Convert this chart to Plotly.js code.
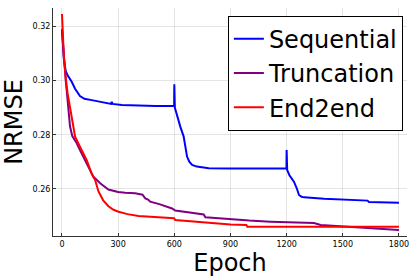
<!DOCTYPE html>
<html>
<head>
<meta charset="utf-8">
<script src="https://cdn.plot.ly/plotly-3.0.1.min.js"></script>
<style>html,body{margin:0;padding:0;background:#fff;}#chart{width:415px;height:277px;}</style>
</head>
<body>
<div id="chart"></div>
<script>
const seqEpoch = [0, 10, 20, 30, 52, 70, 96, 120, 159, 200, 248, 262, 266, 270, 320, 400, 500, 599, 600, 603, 615, 632, 650, 668, 680, 695, 720, 784, 900, 1000, 1100, 1199, 1200, 1203, 1215, 1239, 1255, 1266, 1280, 1293, 1400, 1500, 1632, 1640, 1700, 1800];
const seqVal = [0.319, 0.308, 0.3035, 0.302, 0.2996, 0.297, 0.2943, 0.2933, 0.2928, 0.2922, 0.2916, 0.2914, 0.2922, 0.2914, 0.2910, 0.2907, 0.2906, 0.2906, 0.2987, 0.2900, 0.2870, 0.2830, 0.2793, 0.2719, 0.2700, 0.2688, 0.2682, 0.2676, 0.2675, 0.2675, 0.2675, 0.2675, 0.2743, 0.2669, 0.2650, 0.2626, 0.2600, 0.2577, 0.2570, 0.2568, 0.2563, 0.2560, 0.2556, 0.2551, 0.2550, 0.2548];

const truEpoch = [0, 10, 20, 25, 34, 43, 55, 79, 96, 123, 150, 168, 186, 204, 248, 300, 338, 391, 430, 445, 460, 471, 520, 588, 605, 700, 757, 766, 850, 936, 1000, 1114, 1275, 1346, 1382, 1500, 1600, 1700, 1800];
const truVal = [0.319, 0.308, 0.300, 0.2965, 0.289, 0.2830, 0.2795, 0.2768, 0.2743, 0.2706, 0.2669, 0.2644, 0.2632, 0.2620, 0.2597, 0.2588, 0.2585, 0.2583, 0.2578, 0.2564, 0.2560, 0.2552, 0.2543, 0.2527, 0.2519, 0.2510, 0.2505, 0.2494, 0.2489, 0.2484, 0.2482, 0.2478, 0.2474, 0.2473, 0.2466, 0.2461, 0.2457, 0.2452, 0.2447];

const e2eEpoch = [0, 4, 10, 20, 30, 50, 70, 100, 132, 159, 177, 195, 220, 248, 275, 302, 350, 409, 500, 599, 605, 700, 757, 900, 985, 990, 1100, 1275, 1500, 1800];
const e2eVal = [0.3247, 0.316, 0.309, 0.301, 0.2953, 0.2873, 0.2793, 0.2750, 0.2706, 0.2655, 0.2632, 0.2590, 0.2557, 0.2535, 0.2522, 0.2515, 0.2506, 0.2499, 0.2494, 0.2491, 0.2484, 0.2479, 0.2474, 0.2468, 0.2466, 0.2459, 0.2459, 0.2459, 0.2459, 0.2459];

const seriesNames = ["Sequential", "Truncation", "End2end"];
const xTicks = [0, 300, 600, 900, 1200, 1500, 1800];
const yTicks = [0.26, 0.28, 0.30, 0.32];

const font = "DejaVu Sans, sans-serif";
const traces = [
  {x: seqEpoch, y: seqVal, name: seriesNames[0], mode: "lines", line: {color: "#0000ff", width: 2}},
  {x: truEpoch, y: truVal, name: seriesNames[1], mode: "lines", line: {color: "#800080", width: 2}},
  {x: e2eEpoch, y: e2eVal, name: seriesNames[2], mode: "lines", line: {color: "#ff0000", width: 2}}
];
const axisCommon = {
  showline: true, linecolor: "#333", linewidth: 1, zeroline: false,
  showgrid: true, gridcolor: "rgba(0,0,0,0.1)", gridwidth: 1,
  ticks: "inside", ticklen: 3, tickcolor: "#333",
  tickfont: {family: font, size: 8, color: "#000"}
};
const layout = {
  width: 415, height: 277,
  margin: {l: 53, r: 8, t: 8, b: 41},
  paper_bgcolor: "#fff", plot_bgcolor: "#fff",
  font: {family: font},
  showlegend: true,
  legend: {x: 0.494, y: 0.966, xanchor: "left", yanchor: "top",
    bgcolor: "#fff", bordercolor: "#000", borderwidth: 1,
    font: {family: font, size: 24, color: "#000"}},
  xaxis: Object.assign({}, axisCommon, {range: [-48, 1843], tickvals: xTicks, ticktext: xTicks.map(String),
    title: {text: "Epoch", font: {family: font, size: 24, color: "#000"}, standoff: 6}}),
  yaxis: Object.assign({}, axisCommon, {range: [0.2425, 0.3269], tickvals: yTicks, ticktext: yTicks.map(v => v.toFixed(2)),
    title: {text: "NRMSE", font: {family: font, size: 24, color: "#000"}, standoff: 6}})
};
Plotly.newPlot("chart", traces, layout, {displayModeBar: false, staticPlot: true});
</script>
</body>
</html>
